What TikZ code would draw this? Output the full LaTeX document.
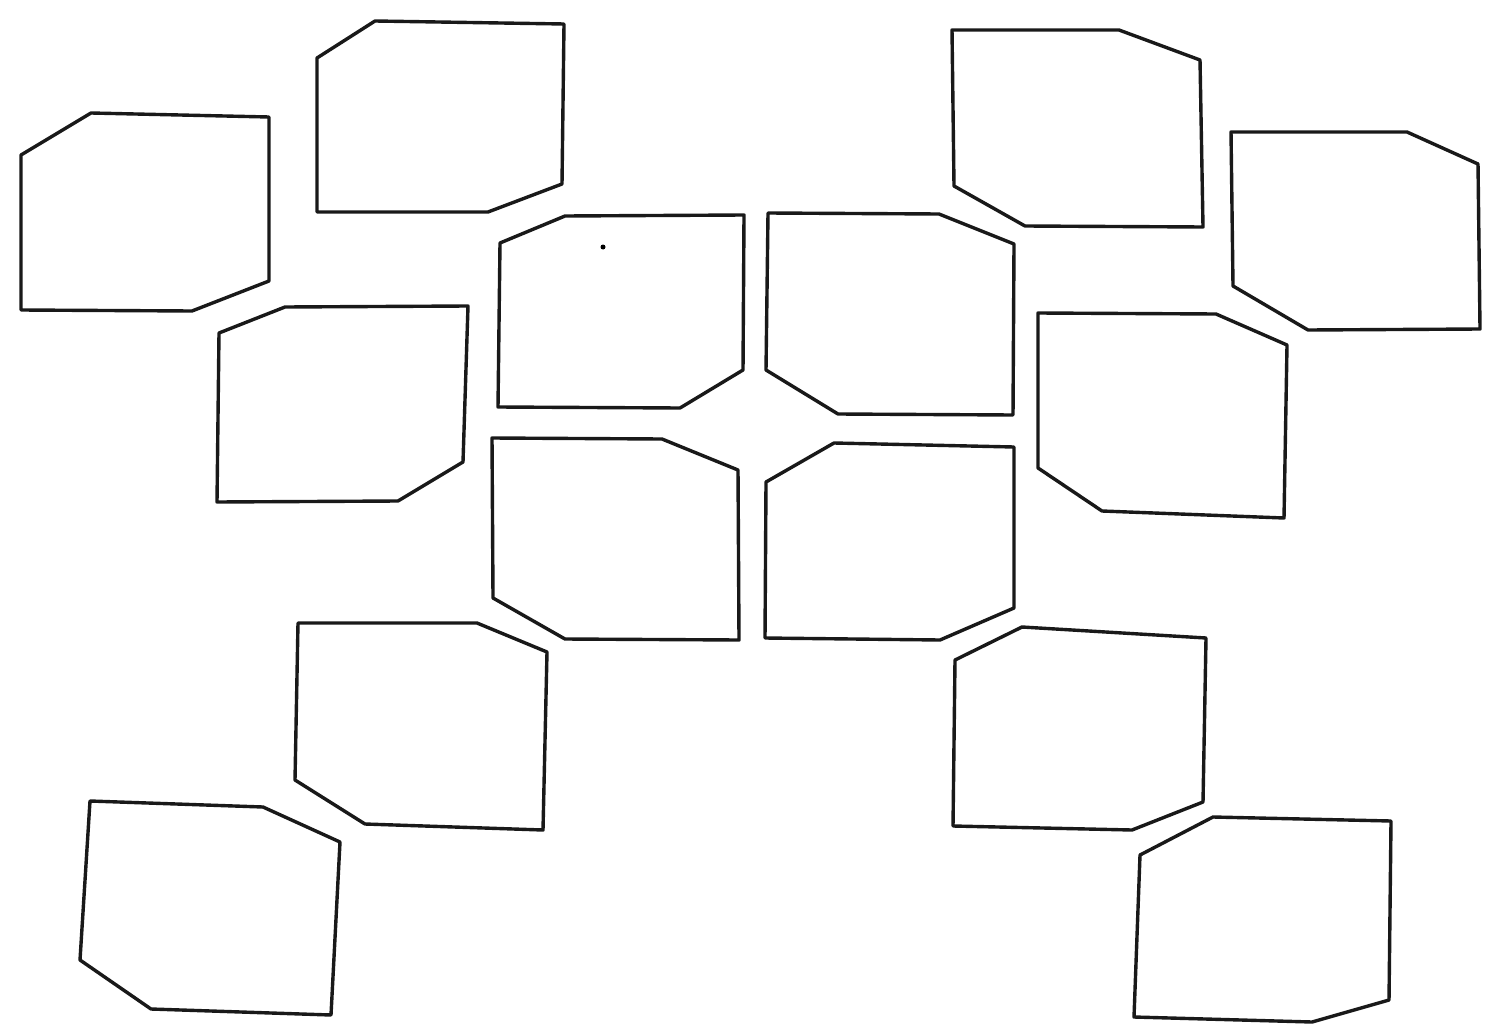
\documentclass[tikz,border=0pt]{standalone}
\begin{document}
\begin{tikzpicture}[x=1pt,y=-1pt,
  cell/.style={draw=black!90,line width=3.4pt,line join=round,line cap=round}]
\useasboundingbox[fill=white] (0,0) rectangle (1495,1035);
% left column, top
\draw[cell] (21,155) -- (91,113) -- (269,117) -- (269,281) -- (192,311) -- (21,310) -- cycle;
\draw[cell] (317,58) -- (375,21) -- (564,24) -- (562,184) -- (488,212) -- (317,212) -- cycle;
\draw[cell] (219,333) -- (285,307) -- (468,306) -- (463,462) -- (398,501) -- (217,502) -- cycle;
% centre block
\draw[cell] (500,243) -- (565,216) -- (744,215) -- (743,370) -- (680,408) -- (498,407) -- cycle;
\draw[cell] (768,213) -- (939,214) -- (1014,244) -- (1013,415) -- (838,414) -- (766,370) -- cycle;
\draw[cell] (492,438) -- (662,439) -- (738,470) -- (739,640) -- (565,639) -- (493,598) -- cycle;
\draw[cell] (766,482) -- (834,443) -- (1014,447) -- (1014,608) -- (940,640) -- (765,638) -- cycle;
% right column, top
\draw[cell] (952,30) -- (1119,30) -- (1200,60) -- (1203,227) -- (1025,226) -- (954,186) -- cycle;
\draw[cell] (1231,132) -- (1407,132) -- (1478,164) -- (1480,329) -- (1308,330) -- (1233,286) -- cycle;
\draw[cell] (1038,313) -- (1216,314) -- (1287,345) -- (1284,518) -- (1102,511) -- (1038,468) -- cycle;
% lower boxes
\draw[cell] (298,623) -- (477,623) -- (547,652) -- (543,830) -- (365,824) -- (295,780) -- cycle;
\draw[cell] (90,801) -- (263,807) -- (340,842) -- (331,1015) -- (151,1009) -- (80,960) -- cycle;
\draw[cell] (955,660) -- (1022,627) -- (1206,638) -- (1203,802) -- (1132,830) -- (953,826) -- cycle;
\draw[cell] (1140,855) -- (1213,817) -- (1391,821) -- (1389,1000) -- (1312,1022) -- (1134,1017) -- cycle;
% small dot
\fill[black] (603,247) circle (2.5pt);
\end{tikzpicture}
\end{document}
